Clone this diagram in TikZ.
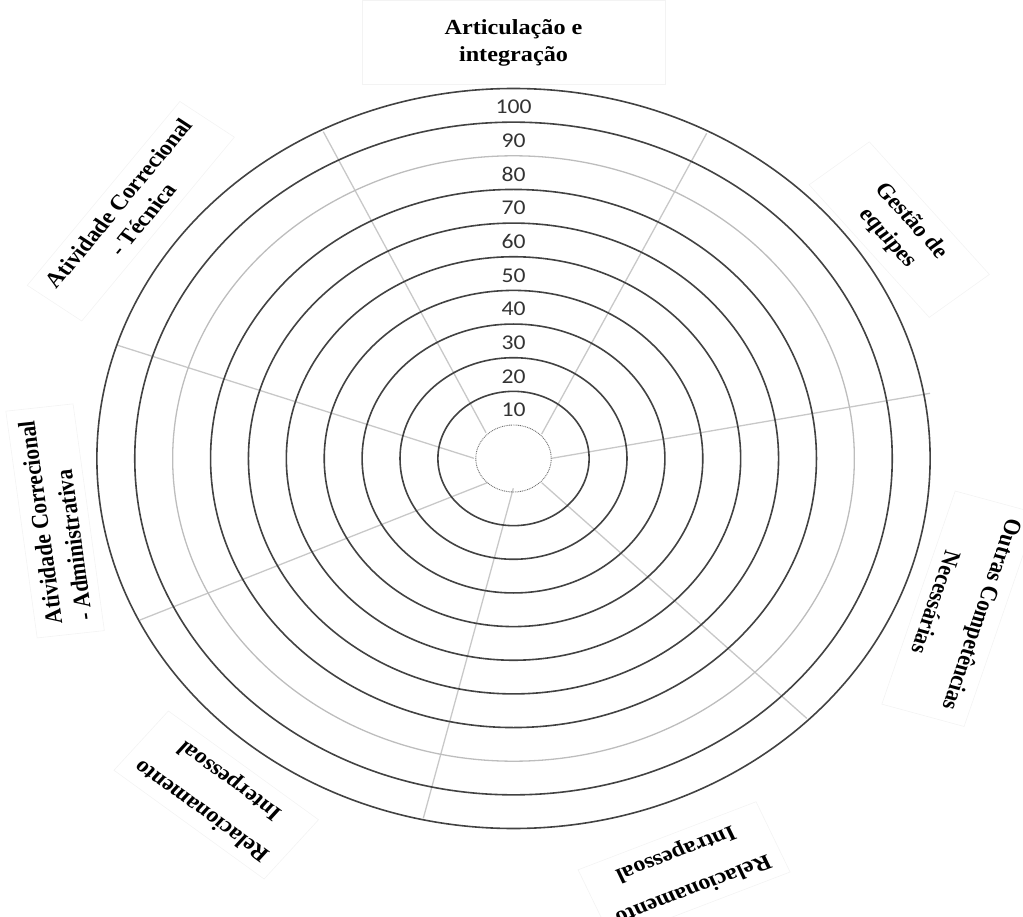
\documentclass[tikz,border=0pt]{standalone}
\usepackage{fontspec}
\setmainfont{Liberation Serif}
\newfontfamily\numfont{Carlito}
\definecolor{ringc}{HTML}{424242}
\definecolor{ringl}{HTML}{BDBDBD}
\definecolor{spokec}{HTML}{C8C8C8}
\definecolor{dotc}{HTML}{6E6E6E}
\definecolor{numc}{HTML}{333333}
\definecolor{boxc}{HTML}{F3F3F3}
\begin{document}
\begin{tikzpicture}[x=1pt,y=-1pt,
  ring/.style={draw=ringc,line width=1.6pt},
  ringlight/.style={draw=ringl,line width=1.3pt},
  spoke/.style={draw=spokec,line width=1.3pt},
  innerring/.style={draw=dotc,line width=0.9pt,dash pattern=on 0.9pt off 0.9pt},
  numlabel/.style={font=\numfont\fontsize{21}{24}\selectfont, text=numc, inner sep=0pt},
  axlabel/.style={font=\bfseries\fontsize{21.5}{27}\selectfont, align=center, draw=boxc, line width=0.6pt, inner xsep=12pt, inner ysep=9pt}]
\useasboundingbox (0,0) rectangle (1023,917);
\clip (0,0) rectangle (1023,917);
% spokes (image coordinates)
\coordinate (s1a) at (486,432.7);   \coordinate (s1b) at (323.3,131.7);
\coordinate (s2a) at (541.7,434);   \coordinate (s2b) at (706.7,133.3);
\coordinate (s3a) at (551.7,458.3); \coordinate (s3b) at (930,393.3);
\coordinate (s4a) at (474,458.3);   \coordinate (s4b) at (116.7,345);
\coordinate (s5a) at (487.3,482.7); \coordinate (s5b) at (140,620);
\coordinate (s6a) at (513.3,488.3); \coordinate (s6b) at (423.3,818.3);
\coordinate (s7a) at (541.7,482.7); \coordinate (s7b) at (806.7,718.3);
\foreach \i in {1,...,7} \draw[spoke] (s\i a) -- (s\i b);
\begin{scope}[shift={(513.5,458.5)}, xscale=1.126, y=1pt, every node/.append style={transform shape}]
  \coordinate (c) at (0,0);
  \draw[innerring] (c) circle [radius=33.5pt];
  \foreach \k in {1,2,3,4,5,6,7,9,10} {
    \pgfmathsetmacro\r{33.5+33.65*\k}
    \draw[ring] (c) circle [radius=\r pt];
  }
  \pgfmathsetmacro\r{33.5+33.65*8}
  \draw[ringlight] (c) circle [radius=\r pt];
  \foreach \k/\v in {1/10,2/20,3/30,4/40,5/50,6/60,7/70,8/80,9/90,10/100}
    \node[numlabel] (n\k) at (0,{48.5+33.67*(\k-1)}) {\v};
  % axis labels
  \node[axlabel, minimum width=269pt, minimum height=84pt, inner sep=0pt] (art) at (0,416) {Articulação e\\integração};
  \node[axlabel, rotate=-51.2, inner xsep=40pt, inner ysep=11pt] (gest) at (342.6,228.9) {Gestão de\\equipes};
  \node[axlabel, rotate=-107] (outr) at (396.2,-150.25) {Outras Competências\\[16pt]Necessárias};
  \node[axlabel, rotate=-156.7] (intra) at (151.5,-412.4) {Relacionamento\\[12pt]Intrapessoal};
  \node[axlabel, rotate=140.8] (inter) at (-264,-336.5) {Relacionamento\\[12pt]Interpessoal};
  \node[axlabel, rotate=97, align=left] (adm) at (-407.1,-62.4) {Atividade Correcional\\- Administrativa};
  \node[axlabel, rotate=53.6] (tec) at (-339.85,247.25) {Atividade Correcional\\- Técnica};
\end{scope}
\end{tikzpicture}
\end{document}
